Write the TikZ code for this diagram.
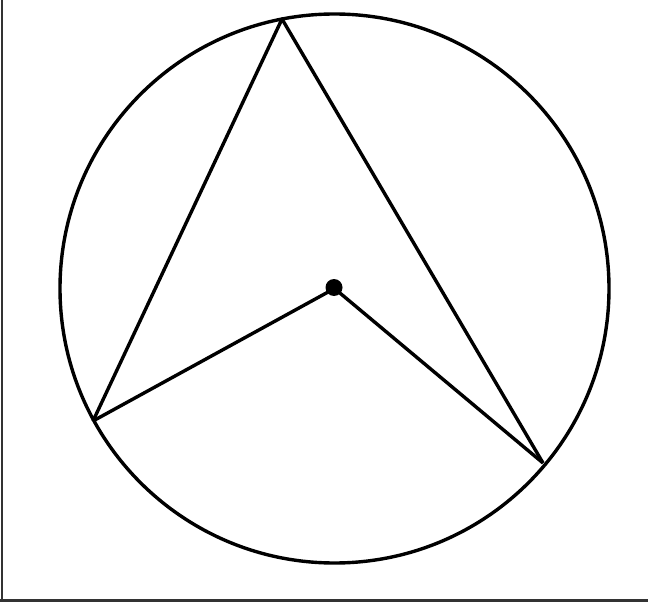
\documentclass[tikz,border=0pt]{standalone}
\begin{document}
\begin{tikzpicture}[x=1pt,y=-1pt,
  edge/.style={line width=3.4pt,black,line join=round},
  frame/.style={line width=2.5pt,black!80},
  centerdot/.style={circle,fill=black,inner sep=0pt,minimum size=17pt}]
\useasboundingbox (0,0) rectangle (648,604);
\coordinate (TL) at (2,0);
\coordinate (BL) at (2,600.5);
\coordinate (BR) at (648,600.5);
\coordinate (BL0) at (0,600.5);
\draw[frame] (TL) -- (BL);
\draw[frame] (BL0) -- (BR);
\coordinate (O) at (334.5,288.5);
\draw[edge] (O) circle (274.5);
\coordinate (A) at (282,19);
\coordinate (B) at (93,421);
\coordinate (C) at (543,463);
\draw[edge] (B) -- (A) -- (C);
\draw[edge] (B) -- (O) -- (C);
\node[centerdot] (dot) at (334,287.5) {};
\end{tikzpicture}
\end{document}
